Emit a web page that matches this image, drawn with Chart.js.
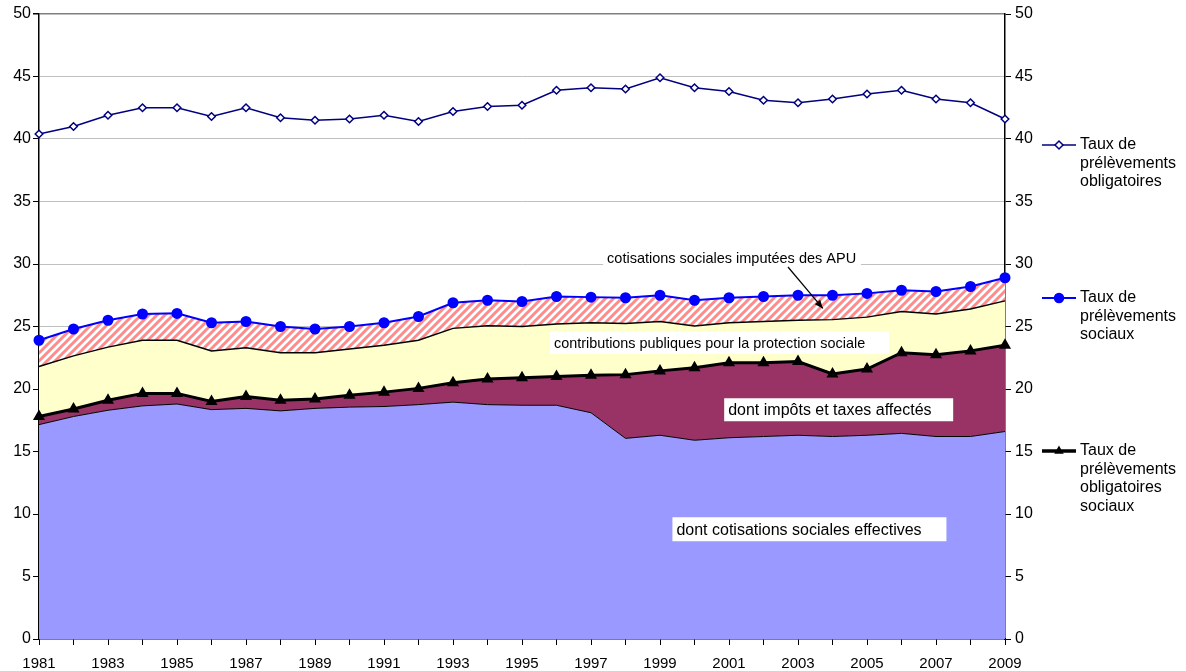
<!DOCTYPE html>
<html>
<head>
<meta charset="utf-8">
<script src="https://cdn.jsdelivr.net/npm/chart.js@4/dist/chart.umd.min.js"></script>
<style>
  body { margin: 0; background: #fff; }
  canvas { display: block; }
</style>
</head>
<body>
<canvas id="chart" width="1186" height="671"></canvas>
<script>
// data (% du PIB)
var years = [];
for (var y = 1981; y <= 2009; y++) years.push(String(y));

var tauxPO = [40.4, 41.0, 41.9, 42.5, 42.5, 41.8, 42.5, 41.7, 41.5, 41.6,
  41.9, 41.4, 42.2, 42.6, 42.7, 43.9, 44.1, 44.0, 44.9, 44.1,
  43.8, 43.1, 42.9, 43.2, 43.6, 43.9, 43.2, 42.9, 41.6];

var tauxSociaux = [23.9, 24.8, 25.5, 26.0, 26.05, 25.3, 25.4, 25.0, 24.8, 25.0,
  25.3, 25.8, 26.9, 27.1, 27.0, 27.4, 27.35, 27.3, 27.5, 27.1,
  27.3, 27.4, 27.5, 27.5, 27.65, 27.9, 27.8, 28.2, 28.9];

// top of "contributions publiques" band
var contribPubliques = [21.8, 22.65, 23.35, 23.9, 23.9, 23.05, 23.3, 22.9, 22.9, 23.2,
  23.5, 23.9, 24.85, 25.05, 25.0, 25.2, 25.3, 25.25, 25.4, 25.05,
  25.3, 25.4, 25.5, 25.55, 25.75, 26.2, 26.0, 26.4, 27.05];

var tauxPOSociaux = [17.8, 18.4, 19.1, 19.65, 19.65, 19.0, 19.4, 19.1, 19.2, 19.5,
  19.75, 20.05, 20.5, 20.8, 20.9, 21.0, 21.1, 21.15, 21.45, 21.7,
  22.1, 22.1, 22.2, 21.2, 21.6, 22.9, 22.75, 23.05, 23.5];

var cotisEffectives = [17.15, 17.8, 18.3, 18.65, 18.8, 18.35, 18.45, 18.25, 18.45, 18.55,
  18.6, 18.75, 18.95, 18.75, 18.7, 18.7, 18.1, 16.05, 16.3, 15.9,
  16.1, 16.2, 16.3, 16.2, 16.3, 16.45, 16.2, 16.2, 16.6];

var yTicks = [0, 5, 10, 15, 20, 25, 30, 35, 40, 45, 50];

var FONT = "'Liberation Sans', Arial, sans-serif";

function makeHatch()
{
  var c = document.createElement('canvas');
  c.width = 8; c.height = 8;
  var g = c.getContext('2d');
  g.fillStyle = '#fff';
  g.fillRect(0, 0, 8, 8);
  g.strokeStyle = '#ff8c8c';
  g.lineWidth = 3;
  g.beginPath();
  g.moveTo(-1, 9); g.lineTo(9, -1);
  g.moveTo(-5, 5); g.lineTo(5, -5);
  g.moveTo(3, 13); g.lineTo(13, 3);
  g.stroke();
  return g.createPattern(c, 'repeat');
}

// text boxes inside the plot, positioned in data units (category index, value)
var annotations = [
  { text: "cotisations sociales imputées des APU", x: 16.35, y: 31.3, w: 258, h: 20, size: 14.5 },
  { text: "contributions publiques pour la protection sociale", x: 14.81, y: 24.58, w: 339, h: 22, size: 14.4 },
  { text: "dont impôts et taxes affectés", x: 19.86, y: 19.26, w: 229, h: 23, size: 16 },
  { text: "dont cotisations sociales effectives", x: 18.36, y: 9.74, w: 274, h: 24, size: 16 }
];

var annotPlugin = {
  id: 'annot',
  afterDatasetsDraw: function(chart) {
    var ctx = chart.ctx;
    var xs = chart.scales.x, ys = chart.scales.y;
    ctx.save();
    ctx.textBaseline = 'middle';
    annotations.forEach(function(a) {
      var px = xs.getPixelForValue(a.x), py = ys.getPixelForValue(a.y);
      ctx.fillStyle = '#fff';
      ctx.fillRect(px, py, a.w, a.h);
      ctx.fillStyle = '#000';
      ctx.font = a.size + "px " + FONT;
      ctx.fillText(a.text, px + 4, py + a.h / 2 + 1);
    });
    // arrow to the hatched band
    var x1 = xs.getPixelForValue(21.71), y1 = ys.getPixelForValue(29.76);
    var x2 = xs.getPixelForValue(22.72), y2 = ys.getPixelForValue(26.45);
    ctx.strokeStyle = '#000';
    ctx.lineWidth = 1.2;
    ctx.beginPath(); ctx.moveTo(x1, y1); ctx.lineTo(x2, y2); ctx.stroke();
    var ang = Math.atan2(y2 - y1, x2 - x1);
    ctx.fillStyle = '#000';
    ctx.beginPath();
    ctx.moveTo(x2, y2);
    ctx.lineTo(x2 - 9 * Math.cos(ang - 0.4), y2 - 9 * Math.sin(ang - 0.4));
    ctx.lineTo(x2 - 9 * Math.cos(ang + 0.4), y2 - 9 * Math.sin(ang + 0.4));
    ctx.closePath(); ctx.fill();
    ctx.restore();
  }
};

var legendItems = [
  { lines: ["Taux de", "prélèvements", "obligatoires"], top: 145, color: '#000080', width: 1.5, style: 'rectRot', r: 4, fill: '#fff' },
  { lines: ["Taux de", "prélèvements", "sociaux"], top: 298, color: '#0000ff', width: 2, style: 'circle', r: 4.5, fill: '#0000ff' },
  { lines: ["Taux de", "prélèvements", "obligatoires", "sociaux"], top: 451, color: '#000', width: 3.5, style: 'triangle', r: 4, fill: '#000' }
];

var legendPlugin = {
  id: 'sideLegend',
  afterDraw: function(chart) {
    var ctx = chart.ctx;
    var left = chart.chartArea.right + 37;
    ctx.save();
    ctx.font = "16px " + FONT;
    ctx.textBaseline = 'middle';
    legendItems.forEach(function(it) {
      ctx.strokeStyle = it.color;
      ctx.lineWidth = it.width;
      ctx.beginPath(); ctx.moveTo(left, it.top); ctx.lineTo(left + 34, it.top); ctx.stroke();
      ctx.fillStyle = it.fill;
      ctx.lineWidth = 1.5;
      Chart.helpers.drawPoint(ctx, { pointStyle: it.style, radius: it.r, borderWidth: 1.5 }, left + 17, it.top);
      ctx.fillStyle = '#000';
      it.lines.forEach(function(l, i) {
        ctx.fillText(l, left + 38, it.top + i * 18.5);
      });
    });
    ctx.restore();
  }
};

var xFont = { family: FONT, size: 15 };
var yFont = { family: FONT, size: 16 };

new Chart(document.getElementById('chart').getContext('2d'), {
  type: 'line',
  data: {
    labels: years,
    datasets: [{
      label: 'dont cotisations sociales effectives',
      data: cotisEffectives,
      fill: 'origin',
      backgroundColor: '#9999ff',
      borderColor: '#000',
      borderWidth: 1,
      pointRadius: 0
    }, {
      label: 'Taux de prélèvements obligatoires sociaux',
      data: tauxPOSociaux,
      fill: '-1',
      backgroundColor: '#993366',
      borderColor: '#000',
      borderWidth: 3,
      pointStyle: 'triangle',
      pointRadius: 4,
      pointBackgroundColor: '#000',
      pointBorderColor: '#000'
    }, {
      label: 'contributions publiques pour la protection sociale',
      data: contribPubliques,
      fill: '-1',
      backgroundColor: '#ffffcc',
      borderColor: '#000',
      borderWidth: 1.5,
      pointRadius: 0
    }, {
      label: 'Taux de prélèvements sociaux',
      data: tauxSociaux,
      fill: '-1',
      backgroundColor: makeHatch(),
      borderColor: '#0000ff',
      borderWidth: 2,
      pointStyle: 'circle',
      pointRadius: 4.5,
      pointBackgroundColor: '#0000ff',
      pointBorderColor: '#0000ff'
    }, {
      label: 'Taux de prélèvements obligatoires',
      data: tauxPO,
      fill: false,
      borderColor: '#000080',
      borderWidth: 1.5,
      pointStyle: 'rectRot',
      pointRadius: 3.8,
      pointBorderWidth: 1.5,
      pointBackgroundColor: '#fff',
      pointBorderColor: '#000080'
    }]
  },
  options: {
    responsive: false,
    animation: false,
    layout: { padding: { top: 14, left: 0, right: 0, bottom: 0 } },
    elements: { line: { tension: 0 } },
    plugins: {
      legend: { display: false },
      tooltip: { enabled: false },
      filler: { drawTime: 'beforeDatasetsDraw' }
    },
    scales: {
      x: {
        offset: false,
        grid: { drawOnChartArea: false, offset: false, tickLength: 6, tickColor: '#000' },
        border: { color: '#000', width: 1.5 },
        ticks: {
          autoSkip: false, maxRotation: 0, padding: 10,
          color: '#000', font: xFont,
          callback: function(v, i) { return i % 2 == 0 ? years[i] : ''; }
        },
        afterFit: function(s) { s.height = 32; }
      },
      y: {
        position: 'left',
        min: 0, max: 50,
        afterBuildTicks: function(s) { s.ticks = yTicks.map(function(v) { return { value: v }; }); },
        grid: {
          tickLength: 6,
          tickColor: '#000',
          color: function(c) { return c.tick && c.tick.value == 50 ? '#808080' : (c.tick && c.tick.value == 0 ? 'rgba(0,0,0,0)' : '#c0c0c0'); },
          lineWidth: function(c) { return c.tick && c.tick.value == 50 ? 1.5 : 1; }
        },
        border: { color: '#000', width: 1.5 },
        ticks: { padding: 2, color: '#000', font: yFont },
        afterFit: function(s) { s.width = 39; }
      },
      y2: {
        position: 'right',
        min: 0, max: 50,
        afterBuildTicks: function(s) { s.ticks = yTicks.map(function(v) { return { value: v }; }); },
        grid: { drawOnChartArea: false, tickLength: 6, tickColor: '#000' },
        border: { color: '#000', width: 1.5 },
        ticks: { padding: 4, color: '#000', font: yFont },
        afterFit: function(s) { s.width = 181; }
      }
    }
  },
  plugins: [annotPlugin, legendPlugin]
});
</script>
</body>
</html>
